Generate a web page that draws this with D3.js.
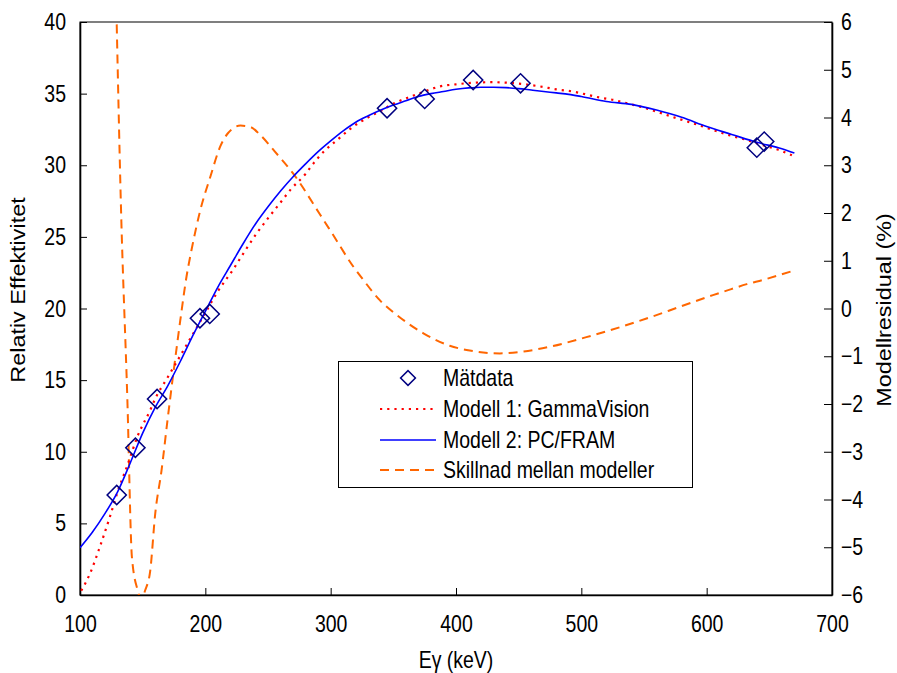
<!DOCTYPE html>
<html>
<head>
<meta charset="utf-8">
<script src="https://cdn.jsdelivr.net/npm/d3@7"></script>
<style>
  html, body { margin: 0; padding: 0; background: #fff; }
  svg { display: block; font-family: "Liberation Sans", Arial, sans-serif; }
</style>
</head>
<body>
<svg id="chart" width="897" height="673"></svg>
<script>
// Measured efficiencies (Pu gamma lines)
const measEnergy = [129.3, 144.2, 161.5, 195.7, 203.5, 345.0, 375.0, 413.7, 451.5, 640.0, 645.9];
const measEff    = [6.98, 10.28, 13.68, 19.32, 19.62, 33.98, 34.63, 35.95, 35.72, 31.23, 31.65];

// Model 1: GammaVision efficiency curve
const m1Energy = [101, 108, 116, 124, 130, 138, 146, 156, 160, 170, 180, 190, 200, 210, 222, 230, 241, 250, 260, 268,
                  280, 286, 295, 305, 315, 329, 340, 350, 361, 375, 387, 400, 414, 430, 441, 455, 467, 480, 494, 500,
                  515, 526, 540, 552, 565, 579, 592, 605, 618, 632, 645, 659, 668];
const m1Eff    = [0.3, 1.5, 3.4, 5.5, 7.2, 9.1, 11.1, 12.9, 13.7, 15.2, 16.7, 18.2, 19.7, 21.2, 22.7, 23.8, 25.25, 26.3, 27.4, 28.3,
                  29.4, 30.1, 31.0, 31.75, 32.5, 33.3, 33.8, 34.3, 34.7, 35.15, 35.5, 35.65, 35.76, 35.8, 35.76, 35.65, 35.5, 35.3, 35.13, 35.02,
                  34.72, 34.55, 34.25, 33.97, 33.6, 33.2, 32.85, 32.46, 32.1, 31.76, 31.4, 31.02, 30.7];

// Model 2: PC/FRAM efficiency curve
const m2Energy = [100, 110, 120, 130, 140, 150, 160, 170, 180, 190, 200, 210, 220, 230, 240, 250, 260, 270, 280, 290,
                  300, 310, 320, 330, 340, 350, 360, 370, 380, 390, 400, 410, 420, 430, 440, 450, 460, 470, 480, 490,
                  500, 520, 540, 560, 580, 600, 620, 640, 660, 670];
const m2Eff    = [3.3, 4.4, 5.7, 7.2, 9.2, 11.3, 13.1, 14.6, 16.3, 18.1, 19.8, 21.5, 23.0, 24.5, 25.9, 27.1, 28.2, 29.2, 30.1, 30.95,
                  31.7, 32.4, 33.0, 33.45, 33.85, 34.2, 34.5, 34.8, 35.0, 35.15, 35.3, 35.4, 35.45, 35.45, 35.42, 35.35, 35.25, 35.15, 35.05, 34.95,
                  34.8, 34.45, 34.25, 33.85, 33.35, 32.7, 32.15, 31.6, 31.15, 30.85];

// Difference between the models (%), right axis
const diffEnergy = [129.3, 132.6, 137.8, 141.4, 146, 149, 152, 156, 160, 165, 170, 175, 180, 185, 189, 196, 204, 212, 218,
                    228, 236, 244, 255, 270, 291, 301, 318, 326, 339, 353, 374, 395, 411, 435, 454, 475, 504, 531, 552,
                    579, 605, 619, 632, 645, 669];
const diffPct    = [5.95, 2.21, -1.92, -5.2, -5.9, -6.1, -5.9, -5.5, -4.3, -3.4, -2.3, -1.25, -0.25, 0.67, 1.23, 2.06, 2.76, 3.4, 3.67,
                    3.83, 3.8, 3.63, 3.3, 2.83, 1.99, 1.58, 0.88, 0.6, 0.18, -0.14, -0.52, -0.78, -0.88, -0.94, -0.9, -0.8, -0.6, -0.39, -0.21,
                    0.04, 0.28, 0.4, 0.51, 0.6, 0.79];

const xTicks = [100, 200, 300, 400, 500, 600, 700];
const yLeftTicks = [0, 5, 10, 15, 20, 25, 30, 35, 40];
const yRightTicks = [-6, -5, -4, -3, -2, -1, 0, 1, 2, 3, 4, 5, 6];

const legendLabels = ["Mätdata", "Modell 1: GammaVision", "Modell 2: PC/FRAM", "Skillnad mellan modeller"];

const colMeas = "#000080", colM1 = "#FF0000", colM2 = "#0000FF", colDiff = "#FF6600";
const FS = 19.5, SY = 1.2;   // font size and vertical text stretch

const svg = d3.select("#chart");
const L = 80, R = 832, T = 22, B = 595;

const x = d3.scaleLinear().domain([100, 700]).range([L, R]);
const yL = d3.scaleLinear().domain([0, 40]).range([B, T]);
const yR = d3.scaleLinear().domain([-6, 6]).range([B, T]);

svg.append("defs").append("clipPath").attr("id", "plotClip")
  .append("rect").attr("x", L).attr("y", T).attr("width", R - L).attr("height", B - T);

// plot frame
svg.append("rect").attr("x", L).attr("y", T).attr("width", R - L).attr("height", B - T)
  .attr("fill", "none").attr("stroke", "#000").attr("stroke-width", 1);

function styleAxis(g) {
  g.select(".domain").attr("stroke", "#000").attr("stroke-width", 1.6);
  g.selectAll(".tick line").attr("stroke", "#000").attr("stroke-width", 1);
  g.selectAll(".tick text").attr("font-size", FS).attr("fill", "#000")
    .attr("font-family", "'Liberation Sans', Arial, sans-serif");
}

// axes with inward ticks
const gx = svg.append("g").attr("transform", `translate(0,${B})`)
  .call(d3.axisBottom(x).tickValues(xTicks).tickSize(-7).tickSizeOuter(0).tickPadding(20).tickFormat(d3.format("d")));
styleAxis(gx);
gx.selectAll(".tick text").attr("y", 20 / SY).attr("transform", `scale(1,${SY})`);

const gyl = svg.append("g").attr("transform", `translate(${L},0)`)
  .call(d3.axisLeft(yL).tickValues(yLeftTicks).tickSize(-7).tickSizeOuter(0).tickPadding(14).tickFormat(d3.format("d")));
styleAxis(gyl);
gyl.selectAll(".tick text").attr("transform", `scale(1,${SY})`);

const gyr = svg.append("g").attr("transform", `translate(${R},0)`)
  .call(d3.axisRight(yR).tickValues(yRightTicks).tickSize(-8).tickSizeOuter(0).tickPadding(9).tickFormat(d3.format("d")));
styleAxis(gyr);
gyr.selectAll(".tick text").attr("transform", `scale(1,${SY})`);

// axis titles
function title(txt, cx, cy, rot) {
  return svg.append("text")
    .attr("transform", `translate(${cx},${cy}) scale(1,${SY})` + (rot ? ` rotate(${rot})` : ""))
    .attr("text-anchor", "middle").attr("dy", "0.35em")
    .attr("font-size", FS).attr("fill", "#000").text(txt);
}
title("Eγ (keV)", (L + R) / 2, 660, 0);
title("Relativ Effektivitet", 18, 290, -90);
title("Modellresidual (%)", 884, 310, -90);

const plot = svg.append("g").attr("clip-path", "url(#plotClip)");

const lineL = d3.line().x(d => x(d[0])).y(d => yL(d[1])).curve(d3.curveMonotoneX);
const lineR = d3.line().x(d => x(d[0])).y(d => yR(d[1])).curve(d3.curveMonotoneX);

plot.append("path").datum(diffEnergy.map((e, i) => [e, diffPct[i]]))
  .attr("d", lineR).attr("fill", "none").attr("stroke", colDiff)
  .attr("stroke-width", 2).attr("stroke-dasharray", "9,6");

plot.append("path").datum(m1Energy.map((e, i) => [e, m1Eff[i]]))
  .attr("d", lineL).attr("fill", "none").attr("stroke", colM1)
  .attr("stroke-width", 2.2).attr("stroke-dasharray", "2.2,5");

plot.append("path").datum(m2Energy.map((e, i) => [e, m2Eff[i]]))
  .attr("d", lineL).attr("fill", "none").attr("stroke", colM2)
  .attr("stroke-width", 1.6);

const diamond = d3.symbol().type(d3.symbolSquare).size(185);
plot.selectAll(".meas").data(measEnergy.map((e, i) => [e, measEff[i]])).join("path")
  .attr("class", "meas")
  .attr("transform", d => `translate(${x(d[0])},${yL(d[1])}) rotate(45)`)
  .attr("d", diamond).attr("fill", "none").attr("stroke", colMeas).attr("stroke-width", 1.5);

// legend
const lg = svg.append("g");
lg.append("rect").attr("x", 338.5).attr("y", 361.5).attr("width", 354).attr("height", 126)
  .attr("fill", "#fff").attr("stroke", "#000").attr("stroke-width", 1);
const rowsY = [378, 409, 440, 470];
const lx0 = 380, lx1 = 436;
lg.append("path").attr("d", diamond.size(110)).attr("transform", `translate(${(lx0 + lx1) / 2},${rowsY[0]}) rotate(45)`)
  .attr("fill", "none").attr("stroke", colMeas).attr("stroke-width", 1.5);
lg.append("line").attr("x1", lx0).attr("x2", lx1).attr("y1", rowsY[1]).attr("y2", rowsY[1])
  .attr("stroke", colM1).attr("stroke-width", 2.2).attr("stroke-dasharray", "2.2,5");
lg.append("line").attr("x1", lx0).attr("x2", lx1).attr("y1", rowsY[2]).attr("y2", rowsY[2])
  .attr("stroke", colM2).attr("stroke-width", 1.6);
lg.append("line").attr("x1", lx0).attr("x2", lx1).attr("y1", rowsY[3]).attr("y2", rowsY[3])
  .attr("stroke", colDiff).attr("stroke-width", 2).attr("stroke-dasharray", "9,6");
legendLabels.forEach((s, i) => {
  lg.append("text").attr("transform", `translate(443,${rowsY[i]}) scale(1,${SY})`)
    .attr("dy", "0.35em").attr("font-size", FS).attr("fill", "#000").text(s);
});
</script>
</body>
</html>
